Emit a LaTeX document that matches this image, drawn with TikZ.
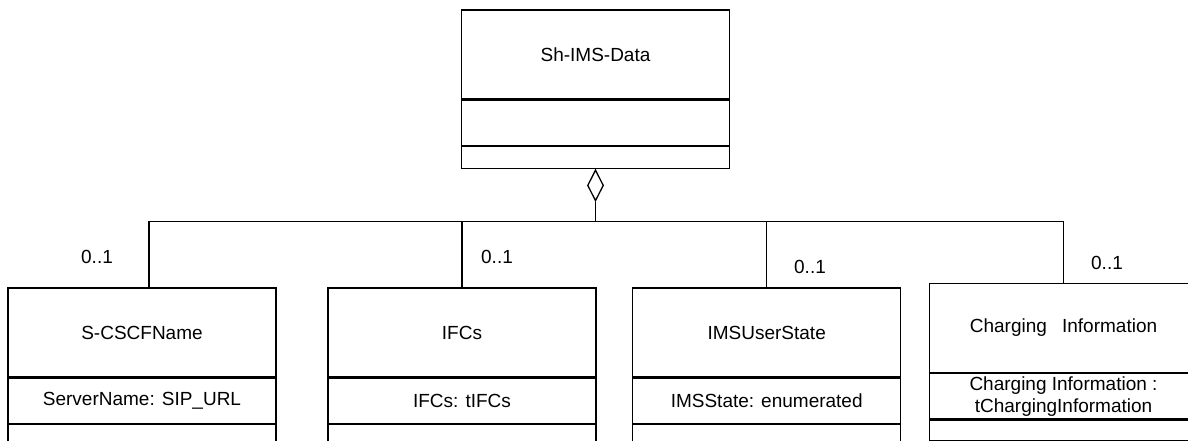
\documentclass[tikz,border=0pt]{standalone}
\usepackage{fontspec}
\setmainfont{Liberation Sans}
\usetikzlibrary{positioning,shapes.geometric}
\newcommand{\umlfont}{\fontsize{19}{22}\selectfont}
\tikzset{
  classname/.style={draw, minimum width=268pt, minimum height=89pt, inner sep=0pt, font=\umlfont},
  classattr/.style={draw, minimum width=268pt, minimum height=45pt, inner sep=0pt, align=center, font=\umlfont},
  classops/.style={draw, minimum width=268pt, minimum height=22pt, inner sep=0pt},
  mult/.style={font=\umlfont, inner sep=0pt},
  aggr/.style={diamond, draw, minimum width=16pt, minimum height=31pt, inner sep=0pt}
}
\begin{document}
\begin{tikzpicture}[x=1pt,y=-1pt,line width=1.3pt]
            \useasboundingbox (0,0) rectangle (1188,441);
            \clip (0,0) rectangle (1188,441);
            % parent class
            \node[classname] (shname) at (595.5,54.5) {Sh-IMS-Data};
            \node[classattr, below=0pt of shname] (shattr) {};
            \node[classops, below=0pt of shattr] (shops) {};
            \node[aggr, below=0pt of shops] (agg) {};
            % child classes
            \node[classname] (scscf) at (142,332.5) {S-CSCFName};
            \node[classattr, below=0pt of scscf] (scscfattr) {ServerName: SIP\_URL};
            \node[classops, below=0pt of scscfattr] (scscfops) {};
            \node[classname] (ifcs) at (462,332.5) {IFCs};
            \node[classattr, below=0pt of ifcs] (ifcsattr) {IFCs: tIFCs};
            \node[classops, below=0pt of ifcsattr] (ifcsops) {};
            \node[classname] (ims) at (766.7,332.5) {IMSUserState};
            \node[classattr, below=0pt of ims] (imsattr) {IMSState: enumerated};
            \node[classops, below=0pt of imsattr] (imsops) {};
            \node[classname] (chg) at (1063.5,328) {Charging\hspace{0.8em}Information};
            \node[classattr, below=0pt of chg] (chgattr) {Charging Information :\\tChargingInformation};
            \node[classops, below=0pt of chgattr, minimum height=21pt] (chgops) {};
            % aggregation lines
            \coordinate (bus) at (595.5,221.5);
            \draw (agg.south) -- (bus);
            \draw (bus) -| ([xshift=7pt]scscf.north);
            \draw (bus) -| (ifcs.north);
            \draw (bus) -| (ims.north);
            \draw (bus) -| (chg.north);
            % multiplicities
            \node[mult] (m1) at (97,257) {0..1};
            \node[mult] (m2) at (497,257) {0..1};
            \node[mult] (m3) at (810,267) {0..1};
            \node[mult] (m4) at (1107,263) {0..1};
        \end{tikzpicture}
\end{document}
